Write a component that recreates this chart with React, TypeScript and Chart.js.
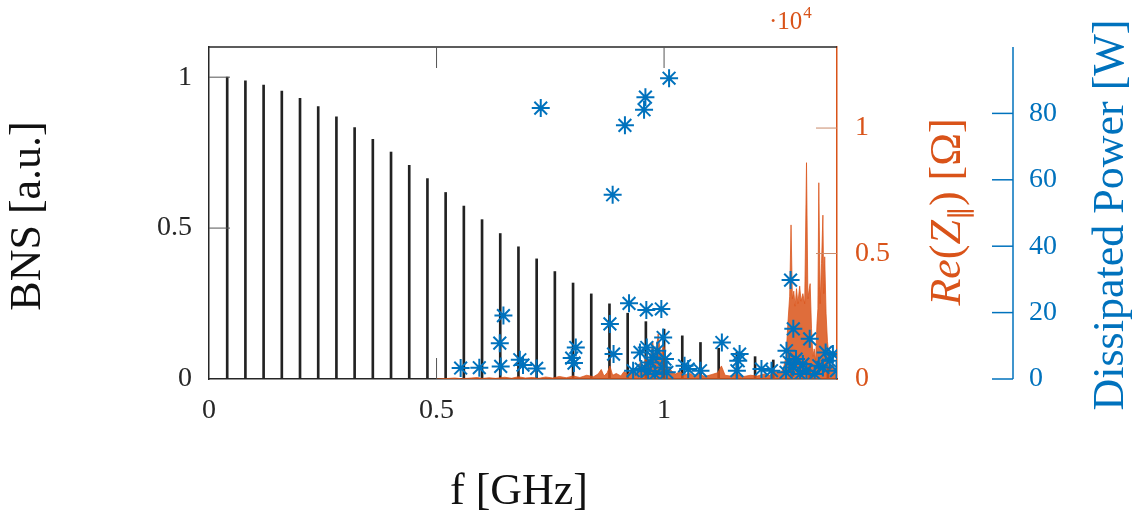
import React, { useEffect, useRef } from 'react';
import { Chart, registerables } from 'chart.js';

Chart.register(...registerables);

// ---------- data ----------
const bnsFreq = [0.04, 0.08, 0.12, 0.16, 0.2, 0.24, 0.28, 0.32, 0.36, 0.4, 0.44, 0.48, 0.52, 0.56, 0.6, 0.64, 0.68,
  0.72, 0.76, 0.8, 0.84, 0.88, 0.92, 0.96, 1.0, 1.04, 1.08, 1.12, 1.16, 1.2, 1.24, 1.28, 1.32, 1.36];
const bnsValue = [1.0, 0.988, 0.974, 0.954, 0.93, 0.903, 0.869, 0.833, 0.794, 0.752, 0.708, 0.664, 0.618, 0.573,
  0.528, 0.482, 0.438, 0.398, 0.356, 0.318, 0.282, 0.249, 0.218, 0.19, 0.165, 0.143, 0.121, 0.102, 0.088, 0.074,
  0.063, 0.055, 0.045, 0.037];

const reFreq = [0.5, 0.52, 0.54, 0.555, 0.57, 0.59, 0.6, 0.615, 0.63, 0.65, 0.665, 0.68, 0.695, 0.71, 0.725, 0.74,
  0.755, 0.77, 0.785, 0.8, 0.815, 0.83, 0.845, 0.855, 0.862, 0.868, 0.875, 0.881, 0.887, 0.895, 0.905, 0.912, 0.92,
  0.93, 0.94, 0.948, 0.955, 0.962, 0.968, 0.975, 0.98, 0.987, 0.993, 0.999, 1.006, 1.015, 1.025, 1.035, 1.045, 1.055,
  1.065, 1.075, 1.09, 1.105, 1.118, 1.126, 1.134, 1.145, 1.16, 1.175, 1.19, 1.205, 1.22, 1.232, 1.245, 1.255, 1.262,
  1.268, 1.272, 1.276, 1.279, 1.282, 1.285, 1.288, 1.291, 1.294, 1.298, 1.301, 1.305, 1.309, 1.313, 1.316, 1.319,
  1.321, 1.324, 1.327, 1.33, 1.333, 1.336, 1.338, 1.34, 1.343, 1.346, 1.349, 1.351, 1.353, 1.356, 1.359, 1.363,
  1.367, 1.371, 1.375, 1.379];
const reOhm = [0, 15, 40, 10, 30, 60, 20, 50, 25, 70, 30, 90, 40, 60, 30, 80, 40, 100, 50, 120, 60, 150, 90, 200,
  380, 120, 250, 520, 150, 220, 120, 300, 180, 420, 200, 700, 350, 1100, 500, 1500, 700, 1800, 900, 1400, 500, 350,
  200, 300, 150, 250, 120, 200, 100, 180, 250, 520, 150, 120, 200, 100, 150, 120, 200, 150, 300, 250, 400, 900, 2200,
  3300, 6140, 3200, 3500, 2900, 3600, 3000, 3700, 3100, 3400, 3000, 8620, 3200, 3600, 3800, 2000, 900, 1200, 700,
  2200, 2800, 7820, 3000, 4600, 6530, 3400, 4870, 2600, 1500, 800, 400, 600, 250, 100];

const powFreq = [0.553, 0.594, 0.641, 0.639, 0.647, 0.683, 0.69, 0.72, 0.729, 0.797, 0.802, 0.806, 0.881, 0.887,
  0.889, 0.914, 0.923, 0.932, 0.947, 0.95, 0.956, 0.959, 0.961, 0.962, 0.965, 0.97, 0.975, 0.98, 0.985, 0.994, 0.996,
  0.998, 1.002, 1.006, 1.011, 1.045, 1.053, 1.08, 1.127, 1.16, 1.163, 1.166, 1.214, 1.236, 1.268, 1.269, 1.275,
  1.278, 1.284, 1.284, 1.29, 1.299, 1.305, 1.313, 1.32, 1.331, 1.34, 1.349, 1.355, 1.364, 1.371, 1.379];
const powWatt = [3.3, 3.4, 3.8, 10.8, 19.1, 5.8, 4.2, 3.2, 81.6, 6.3, 4.8, 9.5, 16.6, 55.5, 7.5, 76.4, 22.8, 2.5,
  8.0, 3.0, 81.1, 84.9, 20.8, 9.5, 2.5, 5.0, 6.5, 1.5, 8.5, 21.1, 3.5, 12.5, 6.0, 2.0, 90.6, 4.0, 3.0, 2.5, 11.0,
  2.5, 5.5, 7.5, 3.0, 2.5, 2.0, 8.5, 5.0, 29.8, 15.1, 3.5, 6.0, 1.5, 4.5, 2.5, 12.1, 1.5, 4.0, 3.5, 8.0, 5.5, 7.5, 2.5];

const xTickValues = [0, 0.5, 1];
const bnsTickValues = [0, 0.5, 1];
const reTickValues = [0, 5000, 10000];
const powTickValues = [0, 20, 40, 60, 80];

// ---------- style ----------
const DARK = '#262626';
const ORANGE = '#D95319';
const BLUE = '#0072BD';
const SERIF = '"Liberation Serif", "Times New Roman", serif';
const TICK_FONT = { family: SERIF, size: 28 };
const TITLE_PX = 44;
const TL = 21;

const decor = {
  id: 'decor',
  afterDraw(chart: any) {
    const { ctx, chartArea: ca, scales } = chart;
    const line = (x1: number, y1: number, x2: number, y2: number) => {
      ctx.beginPath();
      ctx.moveTo(x1, y1);
      ctx.lineTo(x2, y2);
      ctx.stroke();
    };
    ctx.save();
    // top border
    ctx.strokeStyle = DARK;
    ctx.lineWidth = 1.5;
    line(ca.left, ca.top, ca.right, ca.top);
    // inner ticks
    ctx.lineWidth = 1;
    ctx.strokeStyle = '#555';
    scales.x.ticks.forEach((t: any) => {
      const p = scales.x.getPixelForValue(t.value);
      if (p <= ca.left + 1) return;
      line(p, ca.bottom, p, ca.bottom - TL);
      line(p, ca.top, p, ca.top + TL);
    });
    scales.y.ticks.forEach((t: any) => {
      const p = scales.y.getPixelForValue(t.value);
      if (p >= ca.bottom - 1) return;
      line(ca.left, p, ca.left + TL, p);
    });
    ctx.strokeStyle = '#C98A6A';
    scales.yR.ticks.forEach((t: any) => {
      const p = scales.yR.getPixelForValue(t.value);
      if (p >= ca.bottom - 1) return;
      line(ca.right, p, ca.right - TL, p);
    });
    // blue offset axis
    const yp = scales.yP;
    const ax = yp.left + TL;
    ctx.strokeStyle = BLUE;
    ctx.lineWidth = 1.5;
    line(ax, ca.top, ax, ca.bottom);
    yp.ticks.forEach((t: any) => {
      const p = yp.getPixelForValue(t.value);
      line(yp.left, p, ax, p);
    });

    // titles
    ctx.textBaseline = 'alphabetic';
    ctx.textAlign = 'center';
    ctx.fillStyle = '#111';
    ctx.font = `${TITLE_PX}px ${SERIF}`;
    ctx.fillText('f [GHz]', 519, 504);
    ctx.save();
    ctx.translate(40, 216);
    ctx.rotate(-Math.PI / 2);
    ctx.fillText('BNS [a.u.]', 0, 0);
    ctx.restore();
    ctx.save();
    ctx.fillStyle = BLUE;
    ctx.translate(1123, 215);
    ctx.rotate(-Math.PI / 2);
    ctx.fillText('Dissipated Power [W]', 0, 0);
    ctx.restore();
    // Re(Z||) [Ω]
    ctx.save();
    ctx.fillStyle = ORANGE;
    ctx.translate(960, 212);
    ctx.rotate(-Math.PI / 2);
    ctx.textAlign = 'left';
    const pieces: [string, string, number][] = [
      ['Re', `italic ${TITLE_PX}px ${SERIF}`, 0],
      ['(', `${TITLE_PX}px ${SERIF}`, 0],
      ['Z', `italic ${TITLE_PX}px ${SERIF}`, 0],
      ['\u2225', `27px ${SERIF}`, 8],
      [')', `${TITLE_PX}px ${SERIF}`, 0],
      [' [\u03A9]', `${TITLE_PX}px ${SERIF}`, 0],
    ];
    let total = 0;
    const widths = pieces.map(([s, f]) => {
      ctx.font = f;
      const w = ctx.measureText(s).width;
      total += w;
      return w;
    });
    let cx = -total / 2;
    pieces.forEach(([s, f, dy], i) => {
      ctx.font = f;
      ctx.fillText(s, cx, dy);
      cx += widths[i];
    });
    ctx.restore();
    // exponent label
    ctx.fillStyle = ORANGE;
    ctx.textAlign = 'left';
    ctx.font = `25px ${SERIF}`;
    const base = '\u00B710';
    ctx.fillText(base, 769, 29);
    const bw = ctx.measureText(base).width;
    ctx.font = `17px ${SERIF}`;
    ctx.fillText('4', 769 + bw + 1, 18);
    ctx.restore();
  },
};

const noPad = (s: any) => {
  s.paddingTop = 0;
  s.paddingBottom = 0;
  s.paddingLeft = 0;
  s.paddingRight = 0;
};

export default function App() {
  const ref = useRef<HTMLCanvasElement | null>(null);

  useEffect(() => {
    if (!ref.current) return;
    const setTicks = (vals: number[]) => (scale: any) => {
      scale.ticks = vals.map((v) => ({ value: v }));
    };
    const chart = new Chart(ref.current, {
      type: 'scatter',
      data: {
        datasets: [
          {
            type: 'scatter',
            label: 'Dissipated Power',
            data: powFreq.map((f, i) => ({ x: f, y: powWatt[i] })),
            xAxisID: 'x',
            yAxisID: 'yP',
            pointStyle: 'star',
            pointRadius: 9,
            pointBorderWidth: 2,
            borderColor: BLUE,
            backgroundColor: BLUE,
            showLine: false,
            order: 0,
          } as any,
          {
            type: 'line',
            label: 'Re(Z)',
            data: reFreq.map((f, i) => ({ x: f, y: reOhm[i] })),
            xAxisID: 'x',
            yAxisID: 'yR',
            borderColor: 'rgba(217,83,25,0.75)',
            borderWidth: 1,
            backgroundColor: 'rgba(217,83,25,0.85)',
            fill: 'origin',
            pointRadius: 0,
            tension: 0,
            order: 1,
          } as any,
          {
            type: 'bar',
            label: 'BNS',
            data: bnsFreq.map((f, i) => ({ x: f, y: bnsValue[i] })),
            xAxisID: 'x',
            yAxisID: 'y',
            backgroundColor: '#222',
            borderWidth: 0,
            barThickness: 2,
            order: 2,
          } as any,
        ],
      },
      options: {
        animation: false,
        responsive: false,
        devicePixelRatio: 1,
        events: [],
        layout: { padding: { top: 47, left: 0, right: 0, bottom: 0 } },
        plugins: { legend: { display: false }, tooltip: { enabled: false } },
        scales: {
          x: {
            type: 'linear',
            position: 'bottom',
            min: 0,
            max: 1.38,
            offset: false,
            grid: { display: false, drawTicks: false, offset: false },
            border: { display: true, color: DARK, width: 1.5 },
            ticks: { padding: 15, font: TICK_FONT, color: DARK, maxRotation: 0, callback: (v: any) => String(v) },
            afterBuildTicks: setTicks(xTickValues),
            afterFit: (s: any) => { s.height = 136; noPad(s); },
          },
          y: {
            type: 'linear',
            position: 'left',
            min: 0,
            max: 1.1,
            grid: { display: false, drawTicks: false },
            border: { display: true, color: DARK, width: 1.5 },
            ticks: { padding: 17, font: TICK_FONT, color: DARK, callback: (v: any) => String(v) },
            afterBuildTicks: setTicks(bnsTickValues),
            afterFit: (s: any) => { s.width = 209; noPad(s); },
          },
          yR: {
            type: 'linear',
            position: 'right',
            weight: 0,
            min: 0,
            max: 13230,
            grid: { display: false, drawTicks: false },
            border: { display: true, color: ORANGE, width: 1.5 },
            ticks: { padding: 18, font: TICK_FONT, color: ORANGE, callback: (v: any) => String(Number(v) / 1e4) },
            afterBuildTicks: setTicks(reTickValues),
            afterFit: (s: any) => { s.width = 155; noPad(s); },
          },
          yP: {
            type: 'linear',
            position: 'right',
            weight: 1,
            min: 0,
            max: 100,
            grid: { display: false, drawTicks: false },
            border: { display: false },
            ticks: { padding: 37, font: TICK_FONT, color: BLUE, callback: (v: any) => String(v) },
            afterBuildTicks: setTicks(powTickValues),
            afterFit: (s: any) => { s.width = 153; noPad(s); },
          },
        },
      } as any,
      plugins: [decor],
    });
    return () => chart.destroy();
  }, []);

  return (
    <div style={{ position: 'absolute', left: 0, top: 0, width: 1145, height: 515, background: '#fff' }}>
      <canvas ref={ref} width={1145} height={515} />
    </div>
  );
}
